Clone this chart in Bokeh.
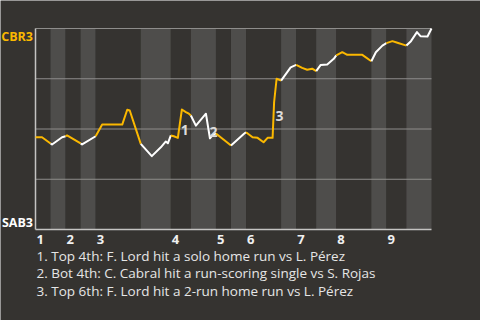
from bokeh.plotting import figure
from bokeh.models import Range1d
from bokeh.core.properties import value
from bokeh.embed import file_html
from bokeh.resources import INLINE

# ---- data ----
away_team = "CBR3"
home_team = "SAB3"
# half-inning boundaries in plate-appearance units (top 1st starts at 0)
half_inning_bounds = [0, 3, 6, 9, 12, 21, 27, 31, 36, 39, 42, 49, 52, 56, 60, 67, 70, 74, 79]
inning_labels = ["1", "2", "3", "4", "5", "6", "7", "8", "9"]
# CBR3 win probability along the game
wp_x = [0, 1.3, 3, 3.3, 5.3, 6, 6.3, 9, 9.3, 12, 13.3, 17.3, 18.3, 18.8, 21, 23.2, 25, 26,
        26.4, 27, 27.6, 28.4, 29.2, 30, 30.6, 31, 32, 34, 34.8, 35.3, 36, 39, 41.6, 42,
        43.3, 44.3, 45.5, 46.3, 47.3, 47.6, 48.1, 49, 50.9, 52, 53.2, 54.2, 55.2, 56, 56.9,
        58.2, 59.5, 60, 61.2, 62.2, 65.2, 67, 67.9, 69.2, 70, 71.2, 72.2, 74, 74.9, 76.1,
        76.8, 78.2, 79]
wp_y = [0.459, 0.459, 0.428, 0.423, 0.459, 0.464, 0.468, 0.428, 0.423, 0.464, 0.522, 0.522,
        0.596, 0.592, 0.426, 0.365, 0.409, 0.438, 0.429, 0.468, 0.464, 0.456, 0.597, 0.584,
        0.576, 0.567, 0.517, 0.576, 0.454, 0.468, 0.478, 0.418, 0.476, 0.484, 0.459, 0.456,
        0.434, 0.456, 0.456, 0.633, 0.750, 0.741, 0.807, 0.819, 0.804, 0.795, 0.800, 0.788,
        0.819, 0.821, 0.849, 0.866, 0.882, 0.869, 0.869, 0.837, 0.882, 0.915, 0.927, 0.937,
        0.929, 0.915, 0.937, 0.982, 0.962, 0.960, 1.0]
grid_levels = [0.25, 0.5, 0.75, 1.0]
play_labels = ["1", "2", "3"]
play_x = [29.0, 34.7, 47.9]
play_y = [0.493, 0.486, 0.564]
notes = [
    "1. Top 4th: F. Lord hit a solo home run vs L. Pérez",
    "2. Bot 4th: C. Cabral hit a run-scoring single vs S. Rojas",
    "3. Top 6th: F. Lord hit a 2-run home run vs L. Pérez",
]

# ---- style / layout ----
BG = "#353330"
BAND = "#4e4d4b"
YELLOW = "#fbb800"
WHITE = "#ffffff"
FONT = "Open Sans"
W, H = 480, 320
PLOT_L, PLOT_R, PLOT_T, PLOT_B = 35, 431, 28, 229   # plot-area pixels

x_min, x_max = half_inning_bounds[0], half_inning_bounds[-1]
ux = (PLOT_R - PLOT_L) / (x_max - x_min)   # px per x unit
uy = (PLOT_B - PLOT_T)                      # px per y unit (0..1)


def py(pix):
    """screen pixel row -> data y"""
    return (PLOT_B - pix) / uy


def px(pix):
    """screen pixel column -> data x"""
    return x_min + (pix - PLOT_L) / ux


p = figure(width=W, height=H, output_backend="svg", toolbar_location=None,
           x_range=Range1d(px(0), px(W)), y_range=Range1d(py(H), py(0)),
           min_border=0, background_fill_color=BG,
           border_fill_color=BG, outline_line_color=None)
p.xaxis.visible = False
p.yaxis.visible = False
p.grid.visible = False

# half-inning bands (bottom halves lighter)
lefts = half_inning_bounds[:-1]
rights = half_inning_bounds[1:]
band_cols = [BG if i % 2 == 0 else BAND for i in range(len(lefts))]
p.quad(left=lefts, right=rights, bottom=0, top=1, fill_color=band_cols, line_color=None)

# grid lines and axis lines
p.segment(x0=[x_min] * len(grid_levels), x1=[x_max] * len(grid_levels),
          y0=grid_levels, y1=grid_levels, line_color="#8e8d8b", line_width=1)
p.segment(x0=[x_min, x_min], x1=[x_max, x_min], y0=[0, 0], y1=[0, 1],
          line_color="#c4c3c1", line_width=1.5)

# win probability line, coloured by half-inning
xs, ys, cols = [], [], []
for i in range(len(lefts)):
    a, b = lefts[i], rights[i]
    seg = [(x, y) for x, y in zip(wp_x, wp_y) if a <= x <= b]
    xs.append([s[0] for s in seg])
    ys.append([s[1] for s in seg])
    cols.append(YELLOW if i % 2 == 0 else WHITE)
p.multi_line(xs=xs, ys=ys, line_color=cols, line_width=2, line_join="round")

# play markers
p.text(x=play_x, y=play_y, text=play_labels, text_font=value(FONT),
       text_font_style="bold", text_font_size="14px", text_color="#dcdcdc",
       text_align="left", text_baseline="middle")

# team labels
p.text(x=[x_min, x_min], y=[py(35.5), py(221.7)], text=[away_team, home_team],
       x_offset=-2.5, text_font=value(FONT), text_font_style="bold", text_font_size="12.5px",
       text_color=[YELLOW, WHITE], text_align="right", text_baseline="middle")

# inning labels
p.text(x=half_inning_bounds[0:-1:2], y=[py(238.5)] * len(inning_labels), text=inning_labels,
       x_offset=1, text_font=value(FONT), text_font_style="bold", text_font_size="13px",
       text_color="#f0f0f0", text_align="left", text_baseline="middle")

# footnotes
p.text(x=[x_min] * len(notes), y=[py(255 + 17.5 * i) for i in range(len(notes))], text=notes,
       x_offset=1, text_font=value(FONT), text_font_size="13.5px", text_color="#e6e6e6",
       text_align="left", text_baseline="middle")

open("out.html", "w").write(file_html(p, INLINE))
